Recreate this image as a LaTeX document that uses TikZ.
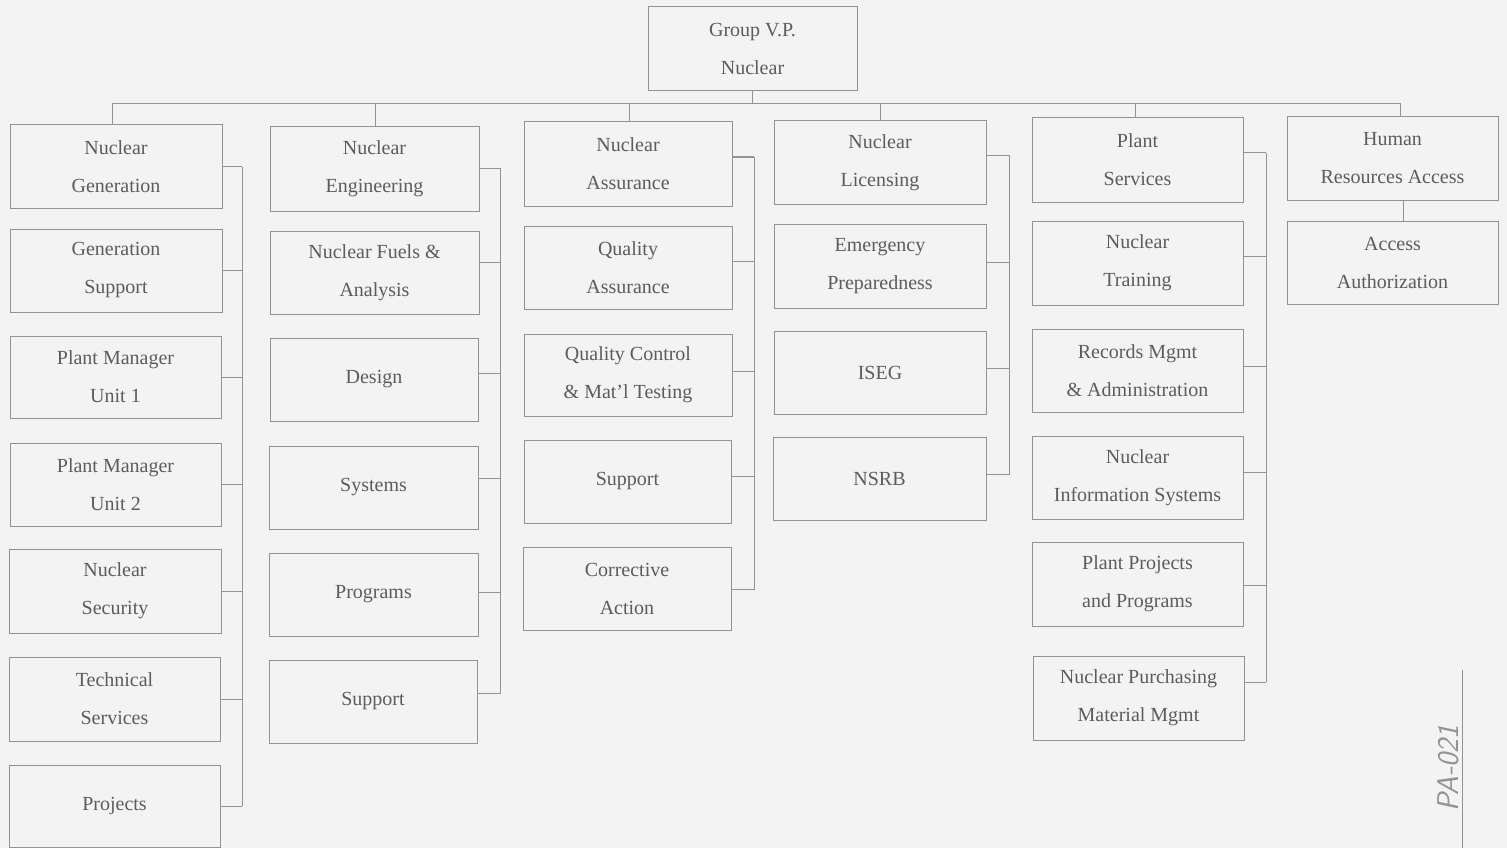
\documentclass[tikz,border=0pt]{standalone}
\usepackage{fontspec}
\setmainfont{Liberation Serif}
\definecolor{bg}{HTML}{F3F3F3}
\definecolor{ln}{HTML}{939393}
\definecolor{tx}{HTML}{5C5C5C}
\tikzset{
  orgbox/.style={draw=ln, line width=1pt, text=tx, align=center, inner sep=0pt,
    font=\fontsize{20}{38}\selectfont},
  conn/.style={draw=ln, line width=1pt},
  note/.style={text=ln, font=\sffamily\itshape\fontsize{30}{30}\selectfont}
}
% box from (x1,y1) to (x2,y2) in pixels
\newcommand\orgbox[6]{%
  \node[orgbox, minimum width={#4-#2}, minimum height={#5-#3}] (#1) at ({(#2+#4)/2},{(#3+#5)/2}) {#6};}
% stub from box east side to a bus
\newcommand\orgstub[3]{%
  \draw[conn] ([yshift=#2]#1.east) -- ([yshift=#2]#1.east -| #3);}
\begin{document}
\begin{tikzpicture}[x=1pt,y=-1pt]
\fill[bg] (0,0) rectangle (1507,848);
\useasboundingbox (0,0) rectangle (1507,848);

% top
\orgbox{vp}{648}{7}{857}{91}{Group V.P.\\Nuclear}
\coordinate (main) at (0,104);

% column 1
\orgbox{ga}{10}{125}{222}{208}{Nuclear\\Generation}
\orgbox{gb}{10}{229}{222}{312}{Generation\\Support}
\orgbox{gc}{10}{336}{221}{418}{Plant Manager\\Unit 1}
\orgbox{gd}{10}{443}{221}{526}{Plant Manager\\Unit 2}
\orgbox{ge}{9}{549}{221}{633}{Nuclear\\Security}
\orgbox{gf}{9}{657}{220}{741}{Technical\\Services}
\orgbox{gg}{9}{765}{220}{847}{Projects}
\coordinate (bus1) at (242,0);

% column 2
\orgbox{ea}{270}{127}{479}{211}{Nuclear\\Engineering}
\orgbox{eb}{270}{231}{479}{314}{Nuclear Fuels \&\\Analysis}
\orgbox{ec}{270}{338}{478}{421}{Design}
\orgbox{ed}{269}{446}{478}{529}{Systems}
\orgbox{ee}{269}{553}{478}{636}{Programs}
\orgbox{ef}{269}{660}{477}{743}{Support}
\coordinate (bus2) at (500,0);

% column 3
\orgbox{aa}{524}{122}{732}{206}{Nuclear\\Assurance}
\orgbox{ab}{524}{226}{732}{309}{Quality\\Assurance}
\orgbox{ac}{524}{334}{732}{416}{Quality Control\\\& Mat'l Testing}
\orgbox{ad}{524}{440}{731}{523}{Support}
\orgbox{ae}{523}{547}{731}{630}{Corrective\\Action}
\coordinate (bus3) at (754,0);

% column 4
\orgbox{la}{774}{121}{986}{204}{Nuclear\\Licensing}
\orgbox{lb}{774}{224}{986}{308}{Emergency\\Preparedness}
\orgbox{lc}{774}{331}{986}{414}{ISEG}
\orgbox{ld}{773}{437}{986}{520}{NSRB}
\coordinate (bus4) at (1009,0);

% column 5
\orgbox{sa}{1032}{118}{1243}{202}{Plant\\Services}
\orgbox{sb}{1032}{221}{1243}{305}{Nuclear\\Training}
\orgbox{sc}{1032}{329}{1243}{412}{Records Mgmt\\\& Administration}
\orgbox{sd}{1032}{436}{1243}{519}{Nuclear\\Information Systems}
\orgbox{se}{1032}{542}{1243}{626}{Plant Projects\\and Programs}
\orgbox{sf}{1033}{656}{1244}{740}{Nuclear Purchasing\\Material Mgmt}
\coordinate (bus5) at (1266,0);

% column 6
\orgbox{ha}{1287}{117}{1498}{200}{Human\\Resources Access}
\orgbox{hb}{1287}{221}{1498}{304}{Access\\Authorization}

% main bar and drops
\draw[conn] ([xshift=-4]ga.north |- main) -- ([xshift=8]ha.north |- main);
\draw[conn] (vp.south) -- (vp.south |- main);
\draw[conn] ([xshift=-4]ga.north) -- ([xshift=-4]ga.north |- main);
\draw[conn] ([xshift=1]ea.north) -- ([xshift=1]ea.north |- main);
\draw[conn] ([xshift=1]aa.north) -- ([xshift=1]aa.north |- main);
\draw[conn] (la.north) -- (la.north |- main);
\draw[conn] ([xshift=-2]sa.north) -- ([xshift=-2]sa.north |- main);
\draw[conn] ([xshift=8]ha.north) -- ([xshift=8]ha.north |- main);
\draw[conn] ([xshift=11]ha.south) -- ([xshift=11]hb.north);

% column 1 stubs and bus
\foreach \n in {ga,gb,gc,gd,ge,gf,gg} {\orgstub{\n}{0}{bus1}}
\draw[conn] (ga.east -| bus1) -- (gg.east -| bus1);

% column 2
\orgstub{ea}{1}{bus2}
\orgstub{eb}{10}{bus2}
\orgstub{ec}{6}{bus2}
\orgstub{ed}{9}{bus2}
\orgstub{ee}{2}{bus2}
\orgstub{ef}{8}{bus2}
\draw[conn] ([yshift=1]ea.east -| bus2) -- ([yshift=8]ef.east -| bus2);

% column 3
\orgstub{aa}{7}{bus3}
\orgstub{ab}{6}{bus3}
\orgstub{ac}{4}{bus3}
\orgstub{ad}{5}{bus3}
\orgstub{ae}{-1}{bus3}
\draw[conn] ([yshift=7]aa.east -| bus3) -- ([yshift=-1]ae.east -| bus3);

% column 4
\orgstub{la}{7}{bus4}
\orgstub{lb}{4}{bus4}
\orgstub{lc}{4}{bus4}
\orgstub{ld}{4}{bus4}
\draw[conn] ([yshift=7]la.east -| bus4) -- ([yshift=4]ld.east -| bus4);

% column 5
\orgstub{sa}{7}{bus5}
\orgstub{sb}{7}{bus5}
\orgstub{sc}{4}{bus5}
\orgstub{sd}{5}{bus5}
\orgstub{se}{-1}{bus5}
\orgstub{sf}{16}{bus5}
\draw[conn] ([yshift=7]sa.east -| bus5) -- ([yshift=16]sf.east -| bus5);

% handwritten reference note
\coordinate (nt) at (1462,670);
\coordinate (nb) at (1462,848);
\draw[conn] (nt) -- (nb);
\node[note, rotate=90] (pa) at (1448,768) {PA-021};
\end{tikzpicture}
\end{document}
